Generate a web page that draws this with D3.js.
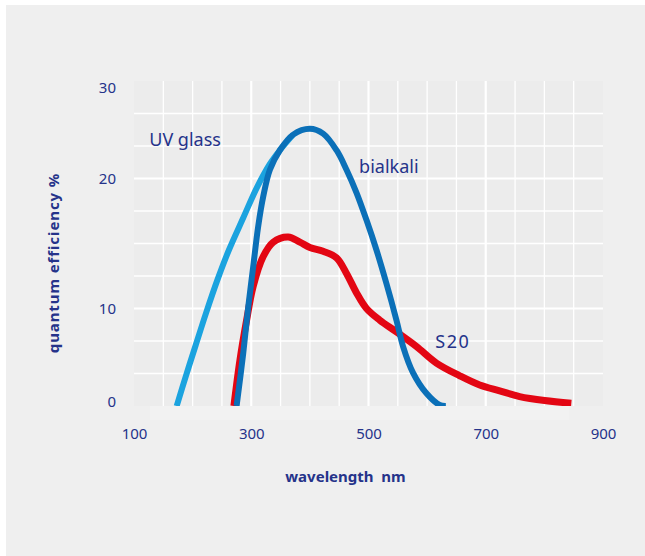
<!DOCTYPE html>
<html>
<head>
<meta charset="utf-8">
<script src="https://cdn.jsdelivr.net/npm/d3@7/dist/d3.min.js"></script>
<style>
  html, body { margin: 0; padding: 0; background: #ffffff; }
  svg { display: block; }
  text { font-family: "Noto Sans", "DejaVu Sans", sans-serif; }
</style>
</head>
<body>
<svg id="chart" width="645" height="556"></svg>
<script>
// ---- data ----
const wavelengthTicks = [100, 300, 500, 700, 900];
const qeTicks = [0, 10, 20, 30];
const gridWavelengths = [150, 200, 250, 300, 350, 400, 450, 500, 550, 600, 650, 700, 750, 800, 850];
const majorWavelengths = [300, 500, 700];

const uvGlassNm = [172.8, 188.6, 204.8, 222.7, 242.3, 261.9, 286.6, 309.6, 331.8, 348.8, 371.5];
const uvGlassQE = [0, 3.1, 6.15, 9.5, 12.2, 14.5, 17.0, 19.3, 21.5, 22.9, 24.5];

const bialkaliNm = [275, 286.3, 294.8, 303.3, 311.8, 320.4, 331.8, 348.8, 371.5, 400, 422.6, 445.5, 462.5, 479.6, 496.6, 513.6, 530.7, 547.7, 559, 576, 598.8, 621.5, 632];
const bialkaliQE = [0, 5.4, 10.1, 13.2, 16.3, 18.6, 20.9, 22.9, 24.5, 25.1, 24.6, 22.9, 20.9, 18.9, 16.8, 14.5, 11.9, 8.8, 6.1, 3.4, 1.3, 0.1, 0];

const s20Nm = [270.4, 280.7, 292.1, 303.3, 320.4, 337.4, 363, 382.9, 400, 422.6, 445.5, 462.5, 479.6, 496.6, 519.3, 547.7, 581.8, 615.9, 655.6, 689.7, 723.8, 757.9, 800.5, 846];
const s20QE = [0, 4.7, 8.8, 11.7, 14.0, 15.1, 15.5, 15.1, 14.7, 14.4, 13.9, 12.7, 11.2, 10.0, 8.8, 7.6, 6.1, 4.4, 3.1, 2.15, 1.55, 0.97, 0.56, 0.28];

const labels = [
  { text: "UV glass", nm: 126, qe: 23.3 },
  { text: "bialkali", nm: 484, qe: 20.6 },
  { text: "S20", nm: 614, qe: 5.9 }
];

// ---- layout ----
const svg = d3.select("#chart");
const pLeft = 134, pRight = 603, pTop = 81, pBottom = 406;
const navy = "#25338a";

svg.append("rect").attr("x", 6).attr("y", 5).attr("width", 639).attr("height", 551).attr("fill", "#efefef");

const x = d3.scaleLinear().domain([100, 900]).range([pLeft, pRight]);
// uniform grid of 10 divisions; the labelled values sit on divisions 0, 3, 7, 10
const gridY = d3.scaleLinear().domain([0, 10]).range([pBottom, pTop]);
const y = d3.scaleLinear().domain(qeTicks).range([gridY(0), gridY(3), gridY(7), gridY(10)]);

svg.append("rect").attr("x", pLeft).attr("y", pTop).attr("width", pRight - pLeft).attr("height", pBottom - pTop).attr("fill", "#ececec");
svg.append("rect").attr("x", x(127)).attr("y", pBottom).attr("width", x(843) - x(127)).attr("height", 14).attr("fill", "#f2f2f2");

const grid = svg.append("g");
grid.selectAll("line.v").data(gridWavelengths).join("line")
  .attr("class", "v")
  .attr("x1", d => x(d)).attr("x2", d => x(d))
  .attr("y1", pTop).attr("y2", pBottom)
  .attr("stroke", "#ffffff")
  .attr("stroke-width", d => majorWavelengths.includes(d) ? 2.2 : 1.3);
grid.selectAll("line.h").data(d3.range(1, 10)).join("line")
  .attr("class", "h")
  .attr("x1", pLeft).attr("x2", pRight)
  .attr("y1", d => gridY(d)).attr("y2", d => gridY(d))
  .attr("stroke", "#ffffff")
  .attr("stroke-width", d => (d === 3 || d === 7) ? 2.2 : 1.3);

// clip
svg.append("clipPath").attr("id", "plotclip").append("rect")
  .attr("x", pLeft).attr("y", pTop).attr("width", pRight - pLeft).attr("height", pBottom - pTop);

const line = d3.line().x(d => x(d[0])).y(d => y(d[1])).curve(d3.curveCatmullRom.alpha(0.5));
const curves = svg.append("g").attr("clip-path", "url(#plotclip)");
const series = [
  { nm: uvGlassNm, qe: uvGlassQE, color: "#1ba3df", width: 6 },
  { nm: s20Nm, qe: s20QE, color: "#e30613", width: 7 },
  { nm: bialkaliNm, qe: bialkaliQE, color: "#0b70b8", width: 6 }
];
series.forEach(s => {
  curves.append("path")
    .datum(d3.zip(s.nm, s.qe))
    .attr("d", line)
    .attr("fill", "none")
    .attr("stroke", s.color)
    .attr("stroke-width", s.width);
});

// axes
const xAxis = svg.append("g").attr("transform", `translate(0,${pBottom})`)
  .call(d3.axisBottom(x).tickValues(wavelengthTicks).tickSize(0).tickPadding(22));
xAxis.select(".domain").remove();
xAxis.selectAll("text").attr("fill", navy).style("font-size", "15px").style("font-family", "'Noto Sans', sans-serif");

const yAxis = svg.append("g").attr("transform", `translate(${pLeft},0)`)
  .call(d3.axisLeft(y).tickValues(qeTicks).tickSize(0).tickPadding(18));
yAxis.select(".domain").remove();
yAxis.selectAll("text")
  .attr("fill", navy).style("font-size", "15px").style("font-family", "'Noto Sans', sans-serif")
  .attr("dy", d => d === d3.max(qeTicks) ? "0.75em" : (d === 0 ? "0.05em" : "0.32em"));

// series labels
svg.selectAll("text.lbl").data(labels).join("text")
  .attr("class", "lbl")
  .attr("x", d => x(d.nm)).attr("y", d => y(d.qe))
  .attr("fill", navy).style("font-size", "18px")
  .style("letter-spacing", d => d.text === "S20" ? "1.5px" : "0px")
  .text(d => d.text);

// axis titles
svg.append("text")
  .attr("x", (pLeft + pRight) / 2 - 23).attr("y", 482)
  .attr("text-anchor", "middle")
  .attr("fill", navy).style("font-size", "15px").style("font-weight", "bold")
  .style("white-space", "pre")
  .text("wavelength  nm");

svg.append("text")
  .attr("transform", "translate(59,263) rotate(-90)")
  .attr("text-anchor", "middle")
  .attr("fill", navy).style("font-size", "15px").style("font-weight", "bold")
  .style("letter-spacing", "0.9px")
  .text("quantum efficiency %");
</script>
</body>
</html>
